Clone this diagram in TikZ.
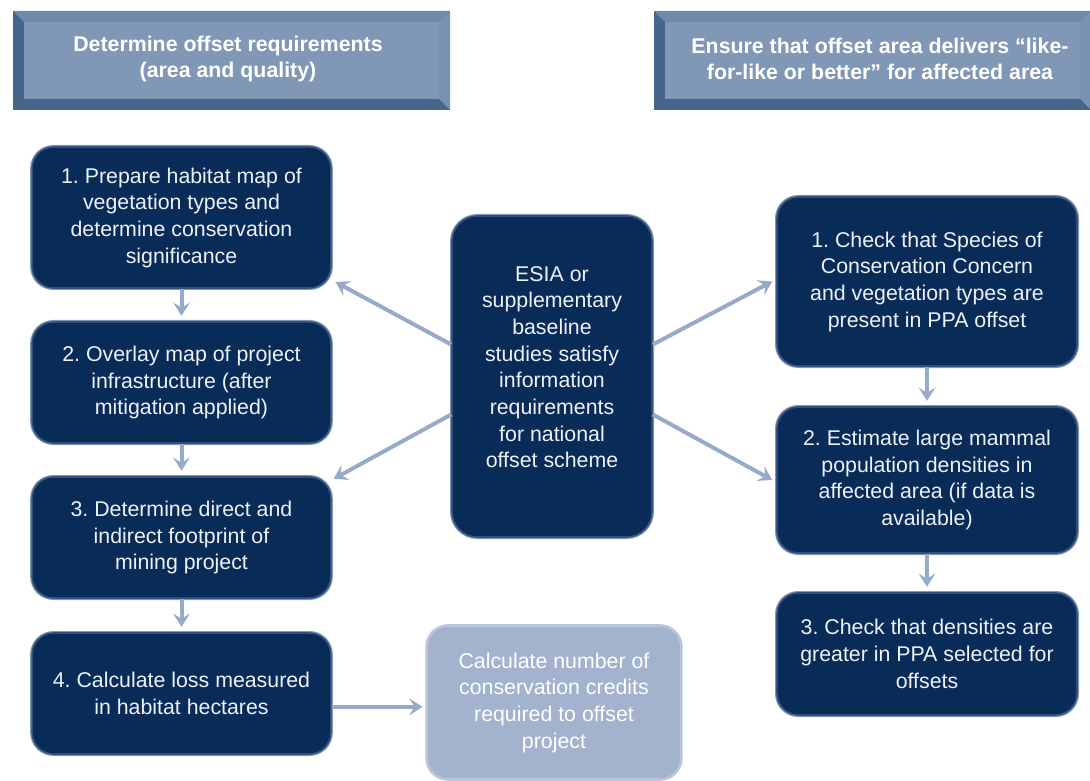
\documentclass[tikz,border=0pt]{standalone}
\usepackage{fontspec}
\setmainfont{Liberation Sans}
\usetikzlibrary{arrows.meta}
\frenchspacing

\definecolor{navy}{RGB}{8,43,88}
\definecolor{edgec}{RGB}{52,80,122}
\definecolor{glowc}{RGB}{128,150,182}
\definecolor{arrowc}{RGB}{151,171,201}
\definecolor{palebox}{RGB}{163,178,205}
\definecolor{paleedge}{RGB}{185,197,220}
\definecolor{bevdark}{RGB}{69,101,141}
\definecolor{bevtop}{RGB}{112,137,170}
\definecolor{bevright}{RGB}{122,145,177}
\definecolor{bevface}{RGB}{129,151,182}
\definecolor{boxtext}{RGB}{238,241,247}

\tikzset{
  stepbox/.style={rounded corners=16pt, fill=navy, draw=edgec, line width=1.2pt,
    preaction={draw=glowc, line width=3pt}, inner sep=0pt},
  steptext/.style={text=boxtext, align=center, font=\fontsize{16}{20}\selectfont},
  palestep/.style={rounded corners=16pt, fill=palebox, draw=paleedge, line width=2pt, inner sep=0pt,
    text=white, align=center, font=\fontsize{16}{20}\selectfont},
  headtext/.style={text=white, align=center, font=\bfseries\fontsize{16}{20}\selectfont},
  flow/.style={draw=arrowc, line width=3pt, -{Stealth[length=10pt,width=12.5pt,inset=4pt]}}
}

\begin{document}
\begin{tikzpicture}[x=0.75pt,y=-0.75pt]
\useasboundingbox (0,0) rectangle (1090,781);

\begin{scope}[shift = {(13,11)}]
\fill[bevdark] (0,0) rectangle (437,99);
\fill[bevtop] (0,0) -- (437,0) -- (426,11) -- (11,11) -- cycle;
\fill[bevright] (437,0) -- (437,99) -- (426,88) -- (426,11) -- cycle;
\fill[bevface] (11,11) rectangle (426,88);
\end{scope}
\node[headtext] (reqtitle) at (228,59) {Determine offset requirements\\(area and quality)};

\begin{scope}[shift = {(654,11)}]
\fill[bevdark] (0,0) rectangle (437,99);
\fill[bevtop] (0,0) -- (437,0) -- (426,11) -- (11,11) -- cycle;
\fill[bevright] (437,0) -- (437,99) -- (426,88) -- (426,11) -- cycle;
\fill[bevface] (11,11) rectangle (426,88);
\end{scope}
\node[headtext] (liketitle) at (880,59) {Ensure that offset area delivers ``like-\\for-like or better'' for affected area};

\node[stepbox, steptext, minimum width=224pt, minimum height=105.75pt] (habitat) at (181.5,217.5)
  {1. Prepare habitat map of\\vegetation types and\\determine conservation\\significance};
\node[stepbox, steptext, minimum width=224pt, minimum height=90.75pt] (overlay) at (181.5,382.5)
  {2. Overlay map of project\\infrastructure (after\\mitigation applied)};
\node[stepbox, steptext, minimum width=224pt, minimum height=90.75pt] (footprint) at (181.5,537.5)
  {3. Determine direct and\\indirect footprint of\\mining project};
\node[stepbox, steptext, minimum width=224pt, minimum height=90.75pt] (loss) at (181.5,693.5)
  {4. Calculate loss measured\\in habitat hectares};

\node[stepbox, minimum width=150pt, minimum height=240.75pt, rounded corners=19pt] (esia) at (552,376.5) {};
\node[steptext] (esiatext) at (552,367)
  {ESIA or\\supplementary\\baseline\\studies satisfy\\information\\requirements\\for national\\offset scheme};

\node[stepbox, steptext, minimum width=225pt, minimum height=126.75pt] (species) at (927,281.5)
  {1. Check that Species of\\Conservation Concern\\and vegetation types are\\present in PPA offset};
\node[stepbox, steptext, minimum width=225pt, minimum height=109.5pt] (mammal) at (927,480)
  {2. Estimate large mammal\\population densities in\\affected area (if data is\\available)};
\node[stepbox, steptext, minimum width=225pt, minimum height=91.5pt] (density) at (927,654)
  {3. Check that densities are\\greater in PPA selected for\\offsets};

\node[palestep, minimum width=191pt, minimum height=115.5pt] (credits) at (554,702.5)
  {Calculate number of\\conservation credits\\required to offset\\project};

\draw[flow, shorten >=4pt] (habitat) -- (overlay);
\draw[flow, shorten >=4pt] (overlay) -- (footprint);
\draw[flow, shorten >=4pt] (footprint) -- (loss);
\draw[flow, shorten >=4pt] (species) -- (mammal);
\draw[flow, shorten >=4pt] (mammal) -- (density);

\draw[flow] ([yshift=24pt]esia.west) -- ([shift={(3pt,5pt)}]habitat.south east);
\draw[flow] ([yshift=-28.5pt]esia.west) -- ([shift={(1.5pt,-2pt)}]footprint.north east);
\draw[flow] ([yshift=24pt]esia.east) -- ([xshift=-3pt]species.west);
\draw[flow] ([yshift=-28.5pt]esia.east) -- ([xshift=-3pt]mammal.west);
\draw[flow, shorten >=2pt] ([yshift=-10pt]loss.east) -- ([yshift=-10pt]loss.east -| credits.west);
\end{tikzpicture}
\end{document}
